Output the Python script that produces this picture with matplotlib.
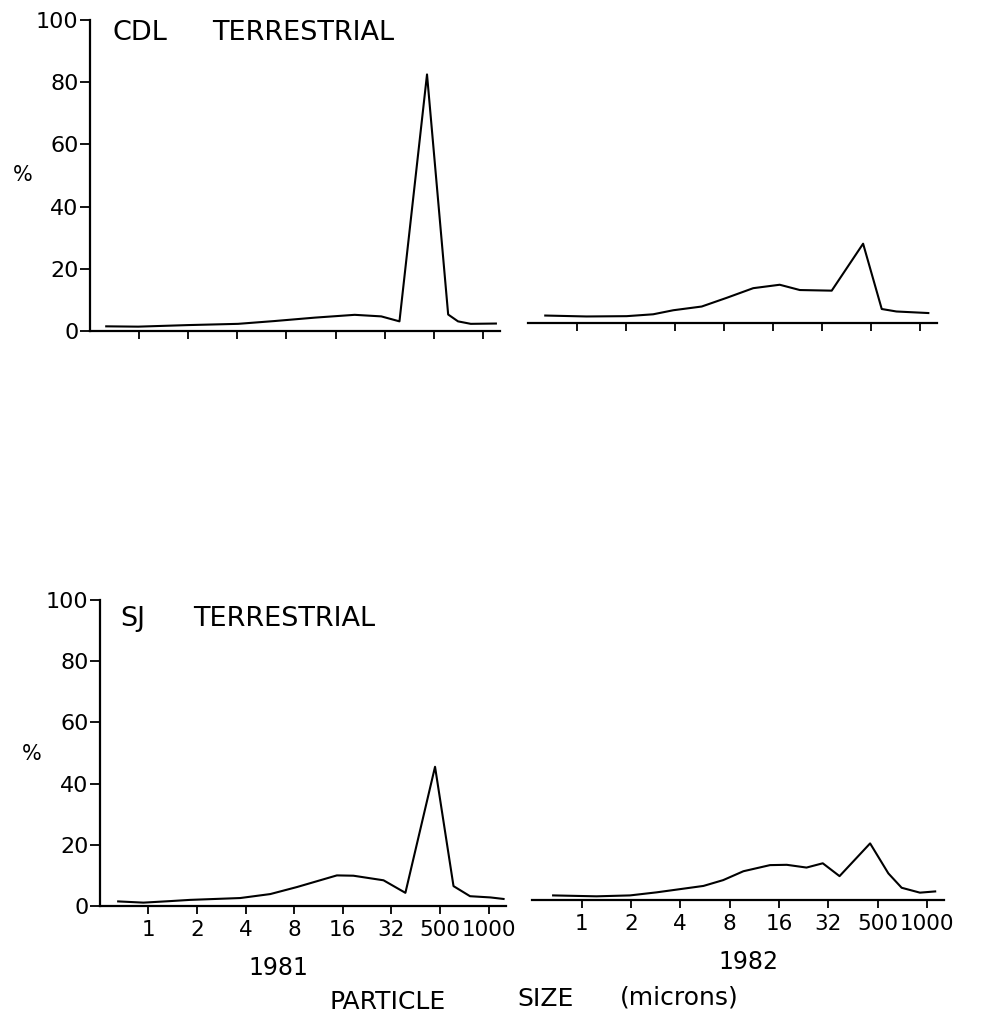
import matplotlib
matplotlib.use("Agg")
import matplotlib.pyplot as plt

# ---- data (x in tick units: tick k = k-th size class) ----
size_labels = ["1", "2", "4", "8", "16", "32", "500", "1000"]
tick_pos = [1, 2, 3, 4, 5, 6, 7, 8]

cdl81_x = [0.34, 0.99, 2.0, 3.02, 3.76, 4.58, 5.39, 5.93, 6.3, 6.86, 7.29, 7.49, 7.75, 8.26]
cdl81_y = [1.5, 1.4, 1.9, 2.3, 3.2, 4.3, 5.2, 4.7, 3.1, 82.5, 5.3, 3.1, 2.3, 2.4]

cdl82_x = [0.36, 1.2, 2.02, 2.56, 2.97, 3.55, 4.06, 4.6, 5.14, 5.55, 6.2, 6.84, 7.22, 7.52, 8.17]
cdl82_y = [2.4, 2.1, 2.2, 2.8, 4.1, 5.3, 8.1, 11.2, 12.3, 10.6, 10.4, 25.5, 4.5, 3.7, 3.2]

sj81_x = [0.38, 0.9, 1.45, 1.86, 2.89, 3.51, 4.06, 4.88, 5.22, 5.84, 6.29, 6.9, 7.28, 7.62, 8.04, 8.31]
sj81_y = [1.5, 1.1, 1.6, 2.0, 2.6, 3.9, 6.2, 10.0, 9.9, 8.4, 4.3, 45.5, 6.5, 3.2, 2.8, 2.3]

sj82_x = [0.42, 1.3, 1.98, 2.52, 3.47, 3.87, 4.28, 4.82, 5.16, 5.56, 5.89, 6.23, 6.85, 7.22, 7.49, 7.86, 8.17]
sj82_y = [1.5, 1.2, 1.5, 2.5, 4.6, 6.5, 9.4, 11.4, 11.5, 10.6, 12.0, 7.8, 18.5, 8.7, 4.0, 2.4, 2.8]

y_ticks = [0, 20, 40, 60, 80, 100]

W, H = 988, 1019
plt.rcParams["font.family"] = ["DejaVu Sans"]

fig = plt.figure(figsize=(W / 100, H / 100), dpi=100)
fig.patch.set_facecolor("white")

XMAX = 8.35


def add_px_axes(left, zero, top, unit):
    width = XMAX * unit
    return fig.add_axes([left / W, 1 - zero / H, width / W, (zero - top) / H])


def style(ax, show_y, show_xlabels):
    ax.set_xlim(0, XMAX)
    ax.set_ylim(0, 100)
    ax.spines["top"].set_visible(False)
    ax.spines["right"].set_visible(False)
    ax.spines["bottom"].set_linewidth(1.6)
    ax.spines["left"].set_linewidth(1.6)
    ax.set_xticks(tick_pos)
    ax.tick_params(axis="x", direction="out", length=6, width=1.3, pad=4,
                   labelsize=15.5)
    if show_xlabels:
        ax.set_xticklabels(size_labels)
    else:
        ax.set_xticklabels([])
    if show_y:
        ax.set_yticks(y_ticks)
        ax.tick_params(axis="y", direction="out", length=7, width=1.3, pad=1,
                       labelsize=16)
    else:
        ax.spines["left"].set_visible(False)
        ax.set_yticks([])


ax1 = add_px_axes(89.5, 331, 20, 49.2)
ax2 = add_px_axes(527.6, 323, 12, 49.05)
ax3 = add_px_axes(99.7, 906, 600, 48.6)
ax4 = add_px_axes(532.4, 900, 594, 49.3)

style(ax1, True, False)
style(ax2, False, False)
style(ax3, True, True)
style(ax4, False, True)

lw = 1.5
ax1.plot(cdl81_x, cdl81_y, color="black", lw=lw, clip_on=False)
ax2.plot(cdl82_x, cdl82_y, color="black", lw=lw, clip_on=False)
ax3.plot(sj81_x, sj81_y, color="black", lw=lw, clip_on=False)
ax4.plot(sj82_x, sj82_y, color="black", lw=lw, clip_on=False)


def txt(x, y, s, size, ha="left"):
    fig.text(x / W, 1 - y / H, s, fontsize=size, ha=ha, va="center",
             color="black")


# panel titles (word positions as in the original)
txt(112, 33, "CDL", 19.5)
txt(212, 33, "TERRESTRIAL", 19.5)
txt(120, 619, "SJ", 19.5)
txt(193, 619, "TERRESTRIAL", 19.5)
# axis labels
txt(23, 175, "%", 15, "center")
txt(32, 754, "%", 15, "center")
txt(278, 968, "1981", 17, "center")
txt(748, 962, "1982", 17, "center")
txt(330, 1002, "PARTICLE", 18)
txt(517, 999, "SIZE", 18)
txt(620, 998, "(microns)", 18)

fig.savefig("out.png", dpi=100, facecolor="white")
